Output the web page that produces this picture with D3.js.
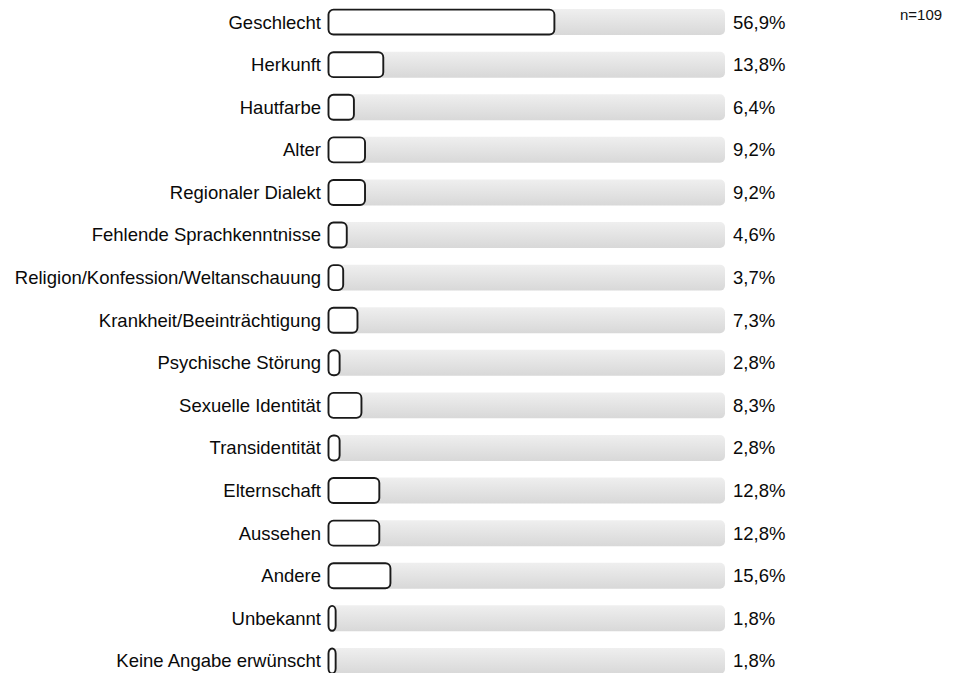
<!DOCTYPE html>
<html>
<head>
<meta charset="utf-8">
<script src="https://cdn.jsdelivr.net/npm/d3@7"></script>
<style>
  body { margin: 0; background: #fff; }
  svg { display: block; font-family: "Liberation Sans", Arial, sans-serif; }
</style>
</head>
<body>
<svg id="chart" width="960" height="673"></svg>
<script>
// chart data
var categories = [
    "Geschlecht", "Herkunft", "Hautfarbe", "Alter", "Regionaler Dialekt",
    "Fehlende Sprachkenntnisse", "Religion/Konfession/Weltanschauung",
    "Krankheit/Beeinträchtigung", "Psychische Störung", "Sexuelle Identität",
    "Transidentität", "Elternschaft", "Aussehen", "Andere", "Unbekannt",
    "Keine Angabe erwünscht"
];
var values = [56.9, 13.8, 6.4, 9.2, 9.2, 4.6, 3.7, 7.3, 2.8, 8.3, 2.8, 12.8, 12.8, 15.6, 1.8, 1.8];
var sampleNote = "n=109";

var svg = d3.select("#chart");

// layout
var plotLeft = 328, plotRight = 725,
    plotTop = 1, plotBottom = 682;

var x = d3.scaleLinear()
    .domain([0, 100])
    .range([plotLeft, plotRight]);

var y = d3.scaleBand()
    .domain(categories)
    .range([plotTop, plotBottom])
    .paddingInner(0.39)
    .paddingOuter(0.19);

// gradient for the grey track
var defs = svg.append("defs");
var grad = defs.append("linearGradient")
    .attr("id", "track")
    .attr("x1", 0).attr("y1", 0)
    .attr("x2", 0).attr("y2", 1);
grad.append("stop").attr("offset", "0%").attr("stop-color", "#efefef");
grad.append("stop").attr("offset", "100%").attr("stop-color", "#d8d8d8");

var rows = svg.selectAll("g.row")
    .data(categories)
    .enter()
    .append("g")
    .attr("class", "row")
    .attr("transform", function(d) { return "translate(0," + y(d) + ")"; });

// grey background bars (full 100%)
rows.append("rect")
    .attr("x", x(0))
    .attr("y", 0)
    .attr("width", x(100) - x(0))
    .attr("height", y.bandwidth())
    .attr("rx", 5)
    .style("fill", "url(#track)");

// value bars
rows.append("rect")
    .attr("x", x(0) + 0.5)
    .attr("y", 0.5)
    .attr("width", function(d, i) { return Math.max(x(values[i]) - x(0), 6); })
    .attr("height", y.bandwidth() - 1)
    .attr("rx", 5)
    .style("fill", "#fff")
    .style("stroke", "#1a1a1a")
    .style("stroke-width", 1.9);

// category labels
rows.append("text")
    .attr("x", plotLeft - 7)
    .attr("y", y.bandwidth() / 2)
    .attr("dy", "0.35em")
    .attr("text-anchor", "end")
    .style("font-size", "18.5px")
    .style("fill", "#0a0a0a")
    .text(function(d) { return d; });

// value labels
rows.append("text")
    .attr("x", plotRight + 8)
    .attr("y", y.bandwidth() / 2)
    .attr("dy", "0.35em")
    .style("font-size", "18.5px")
    .style("fill", "#0a0a0a")
    .text(function(d, i) { return values[i].toFixed(1).replace(".", ",") + "%"; });

// sample size
svg.append("text")
    .attr("x", 900)
    .attr("y", 20)
    .style("font-size", "15px")
    .style("fill", "#111")
    .text(sampleNote);
</script>
</body>
</html>
